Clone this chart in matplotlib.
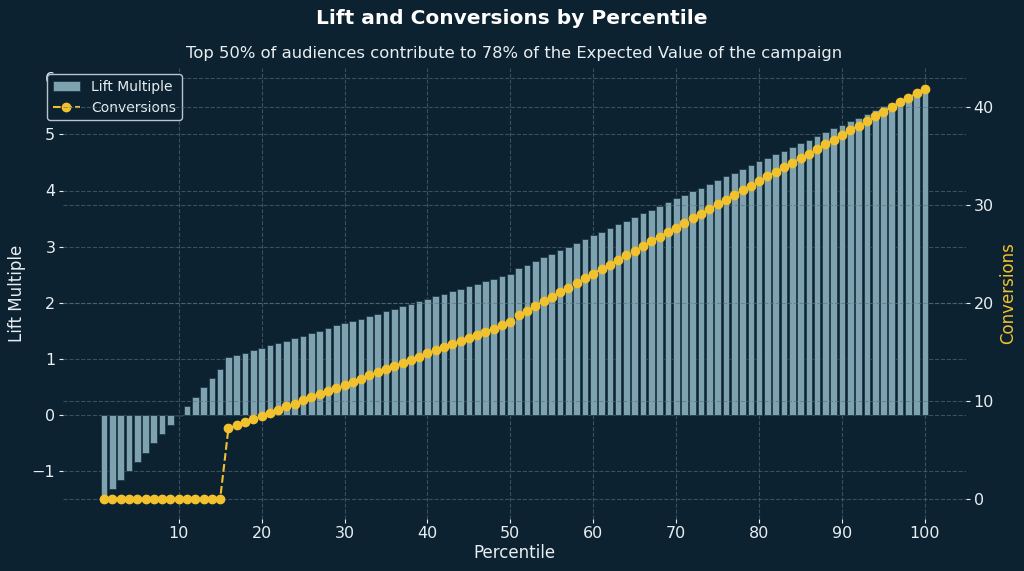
import matplotlib
matplotlib.use("Agg")
import matplotlib.pyplot as plt
import numpy as np

percentile = list(range(1, 101))

lift_multiple = [
    -1.49, -1.33, -1.17, -1.01, -0.84, -0.68, -0.51, -0.35, -0.19, -0.02,
    0.16, 0.32, 0.49, 0.65, 0.82, 1.02, 1.06, 1.10, 1.15, 1.19,
    1.24, 1.28, 1.32, 1.37, 1.41, 1.46, 1.50, 1.54, 1.59, 1.63,
    1.67, 1.71, 1.76, 1.80, 1.84, 1.88, 1.93, 1.98, 2.02, 2.07,
    2.11, 2.16, 2.20, 2.25, 2.29, 2.33, 2.38, 2.42, 2.47, 2.51,
    2.61, 2.67, 2.74, 2.81, 2.87, 2.94, 3.00, 3.07, 3.13, 3.20,
    3.26, 3.33, 3.40, 3.46, 3.53, 3.59, 3.66, 3.73, 3.80, 3.86,
    3.92, 3.99, 4.05, 4.12, 4.18, 4.25, 4.32, 4.38, 4.45, 4.52,
    4.58, 4.65, 4.71, 4.78, 4.84, 4.91, 4.98, 5.04, 5.11, 5.17,
    5.24, 5.30, 5.37, 5.43, 5.50, 5.57, 5.63, 5.70, 5.76, 5.83,
]

conversions = [
    0, 0, 0, 0, 0, 0, 0, 0, 0, 0,
    0, 0, 0, 0, 0, 7.21, 7.52, 7.83, 8.13, 8.47,
    8.78, 9.11, 9.46, 9.73, 10.07, 10.41, 10.74, 11.05, 11.36, 11.68,
    11.97, 12.28, 12.62, 12.93, 13.27, 13.57, 13.88, 14.18, 14.52, 14.87,
    15.17, 15.51, 15.78, 16.12, 16.46, 16.77, 17.07, 17.38, 17.72, 18.03,
    18.74, 19.21, 19.69, 20.17, 20.64, 21.12, 21.56, 22.04, 22.55, 22.99,
    23.47, 23.91, 24.42, 24.90, 25.34, 25.82, 26.30, 26.77, 27.24, 27.68,
    28.17, 28.65, 29.11, 29.59, 30.07, 30.54, 31.02, 31.50, 31.97, 32.45,
    32.93, 33.37, 33.85, 34.32, 34.77, 35.24, 35.71, 36.19, 36.66, 37.14,
    37.63, 38.11, 38.57, 39.05, 39.52, 40.00, 40.48, 40.92, 41.40, 41.87,
]

BG = "#0c2230"
BAR = "#7fa2b1"
GOLD = "#f2c12e"
TXT = "#e8eef2"
GRID = "#5b6f7a"

plt.rcParams['font.family'] = ['DejaVu Sans']

fig = plt.figure(figsize=(10.24, 5.71), dpi=100, facecolor=BG)
ax = fig.add_axes([63 / 1024, 1 - 518.5 / 571, (966 - 63) / 1024, 451 / 571])
ax.set_facecolor(BG)

bars = ax.bar(percentile, lift_multiple, width=0.8, color=BAR,
              edgecolor="#1e3a48", linewidth=0.6, label="Lift Multiple", zorder=2)
ax.set_xlabel("Percentile", color=TXT, fontsize=12, labelpad=2)
ax.set_ylabel("Lift Multiple", color=TXT, fontsize=12)
ax.tick_params(colors=TXT, labelsize=11.5, length=3, pad=2.5)
ax.grid(True, linestyle="--", color=GRID, alpha=0.6, linewidth=0.8, zorder=0)
ax.set_axisbelow(True)
for s in ax.spines.values():
    s.set_visible(False)
ax.set_xticks([10, 20, 30, 40, 50, 60, 70, 80, 90, 100])

ax2 = ax.twinx()
line, = ax2.plot(percentile, conversions, linestyle="--", color=GOLD, marker="o",
                 markersize=6, linewidth=1.5, label="Conversions", zorder=3)
ax2.set_ylabel("Conversions", color=GOLD, fontsize=12)
ax2.tick_params(colors=TXT, labelsize=11.5, length=3, pad=2.5)
ax2.grid(True, axis="y", linestyle="--", color=GRID, alpha=0.6, linewidth=0.8)
for s in ax2.spines.values():
    s.set_visible(False)
ax2.set_yticks([0, 10, 20, 30, 40])
ax2.set_ylim(-1.99, 44.03)
ax.set_xlim(-3.95, 104.95)

leg = ax.legend([bars, line], ["Lift Multiple", "Conversions"], loc="upper left",
                bbox_to_anchor=(47 / 1024, 1 - 74 / 571), bbox_transform=fig.transFigure,
                borderaxespad=0, fontsize=10, facecolor=BG, edgecolor="#b8c4ca",
                framealpha=1, labelcolor=TXT)
leg.set_zorder(10)

fig.text(0.5, 1 - 18 / 571, "Lift and Conversions by Percentile", ha="center", va="center",
         color="white", fontsize=14.5, fontweight="bold")
ax.set_title("Top 50% of audiences contribute to 78% of the Expected Value of the campaign",
             color=TXT, fontsize=11.8, pad=7)

fig.savefig("out.png", dpi=100, facecolor=BG)
